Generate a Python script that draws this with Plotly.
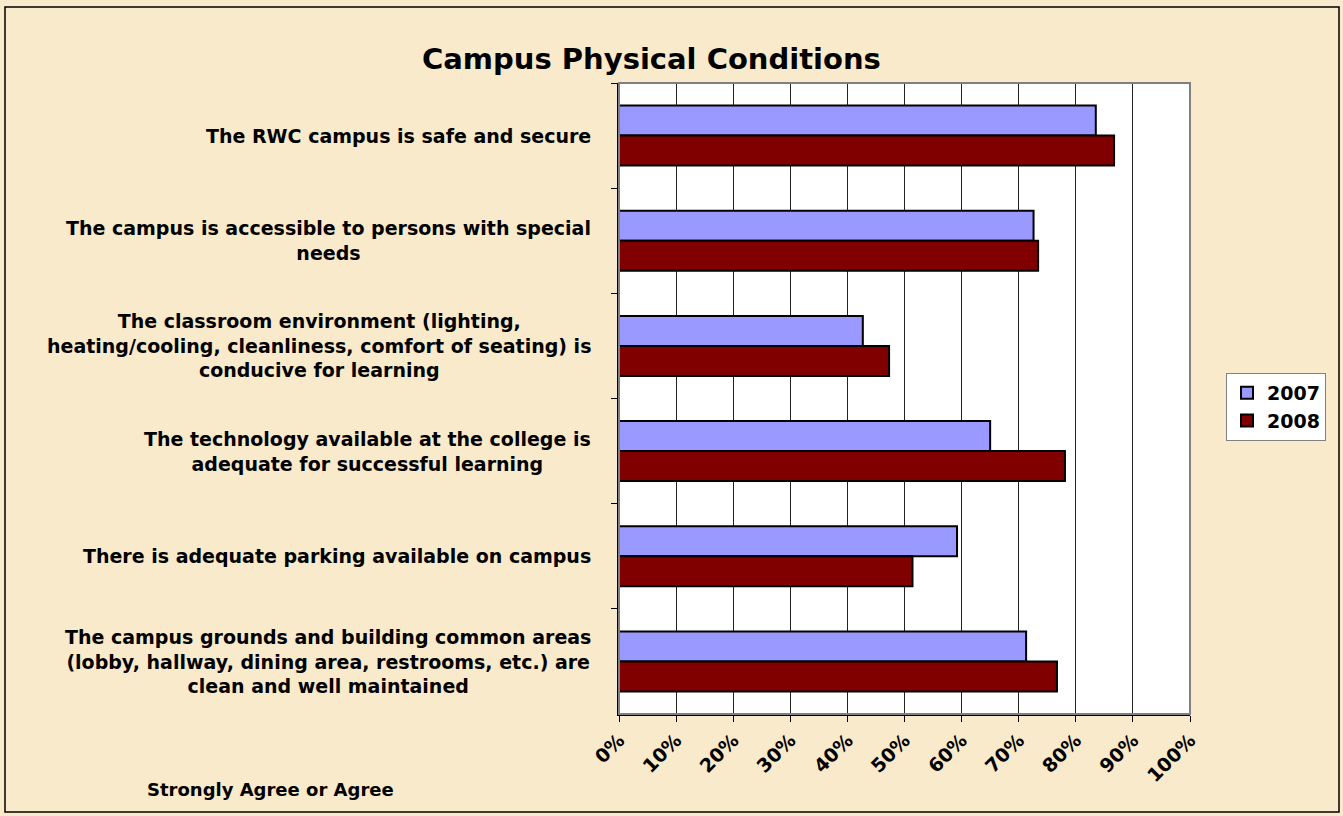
import plotly.graph_objects as go

categories = [
    "The RWC campus is safe and secure",
    "The campus is accessible to persons with special<br>needs",
    "The classroom environment (lighting,<br>heating/cooling, cleanliness, comfort of seating) is<br>conducive for learning",
    "The technology available at the college is<br>adequate for successful learning",
    "There is adequate parking available on campus",
    "The campus grounds and building common areas<br>(lobby, hallway, dining area, restrooms, etc.) are<br>clean and well maintained",
]
keys = ["safe", "access", "classroom", "technology", "parking", "grounds"]
values_2007 = [0.835, 0.726, 0.427, 0.650, 0.592, 0.713]
values_2008 = [0.867, 0.734, 0.473, 0.781, 0.514, 0.767]
series_names = ["2007", "2008"]
tick_vals = [i / 10 for i in range(11)]
tick_text = [f"{i*10}%" for i in range(11)]
title_text = "Campus Physical Conditions"
axis_title_text = "Strongly Agree or Agree"

W, H = 1343, 816
PL, PR, PT, PB = 619, 1190, 83, 714  # plot area pixels
FONT = "DejaVu Sans, Arial, sans-serif"

def px_x(p):
    return (p - PL) / (PR - PL)

def px_y(p):
    return (PB - p) / (PB - PT)

fig = go.Figure()
fig.add_trace(go.Bar(
    y=keys, x=values_2007, name=series_names[0], orientation="h",
    marker=dict(color="#9999FF", line=dict(color="#000000", width=2)),
))
fig.add_trace(go.Bar(
    y=keys, x=values_2008, name=series_names[1], orientation="h",
    marker=dict(color="#800000", line=dict(color="#000000", width=2)),
))

annotations = []
for k, lab in zip(keys, categories):
    annotations.append(dict(
        x=px_x(593), xref="paper", y=k, yref="y", text=lab,
        xanchor="right", yanchor="middle", align="center", showarrow=False,
        font=dict(family=FONT, size=19, color="#000000", weight="bold"),
    ))
annotations.append(dict(
    x=px_x(270), xref="paper", y=px_y(790), yref="paper", text=axis_title_text,
    xanchor="center", yanchor="middle", showarrow=False,
    font=dict(family=FONT, size=18, color="#000000", weight="bold"),
))
annotations.append(dict(
    x=px_x(651), xref="paper", y=px_y(59), yref="paper", text=title_text,
    xanchor="center", yanchor="middle", showarrow=False,
    font=dict(family=FONT, size=29, color="#000000", weight="bold"),
))

shapes = [
    dict(type="rect", xref="paper", yref="paper", x0=0, x1=1, y0=0, y1=1,
         line=dict(color="#808080", width=2), layer="above"),
    dict(type="rect", xref="paper", yref="paper",
         x0=px_x(5), x1=px_x(1339), y0=px_y(812), y1=px_y(7),
         line=dict(color="#000000", width=1.5), layer="below"),
]

fig.update_layout(
    width=W, height=H,
    margin=dict(l=PL, r=W - PR, t=PT, b=H - PB, pad=0),
    paper_bgcolor="#F8EACA",
    plot_bgcolor="#FFFFFF",
    barmode="group", bargap=0.43, bargroupgap=0,
    showlegend=True,
    legend=dict(
        x=px_x(1226), y=px_y(373), xanchor="left", yanchor="top",
        bgcolor="#FFFFFF", bordercolor="#808080", borderwidth=1,
        font=dict(family=FONT, size=19, color="#000000", weight="bold"),
        traceorder="normal", itemwidth=30, tracegroupgap=0,
    ),
    xaxis=dict(
        range=[0, 1], tickvals=tick_vals, ticktext=tick_text, tickangle=-45,
        showgrid=True, gridcolor="#222222", gridwidth=1,
        showline=True, linecolor="#000000", linewidth=1.5,
        ticks="outside", ticklen=6, tickcolor="#000000",
        tickfont=dict(family=FONT, size=19, color="#000000", weight="bold"),
        zeroline=False, fixedrange=True,
    ),
    yaxis=dict(
        categoryorder="array", categoryarray=keys, autorange="reversed",
        showticklabels=False, showgrid=False,
        showline=True, linecolor="#000000", linewidth=1.5,
        ticks="outside", ticklen=6, tickcolor="#000000", tickson="boundaries",
        zeroline=False, fixedrange=True,
    ),
    annotations=annotations,
    shapes=shapes,
)

fig.write_html("out.html", config={"displayModeBar": False})
with open("out.html", "r", encoding="utf-8") as f:
    html = f.read()
html = html.replace("<head>", "<head><style>html,body{margin:0;padding:0;overflow:hidden;}</style>", 1)
with open("out.html", "w", encoding="utf-8") as f:
    f.write(html)
